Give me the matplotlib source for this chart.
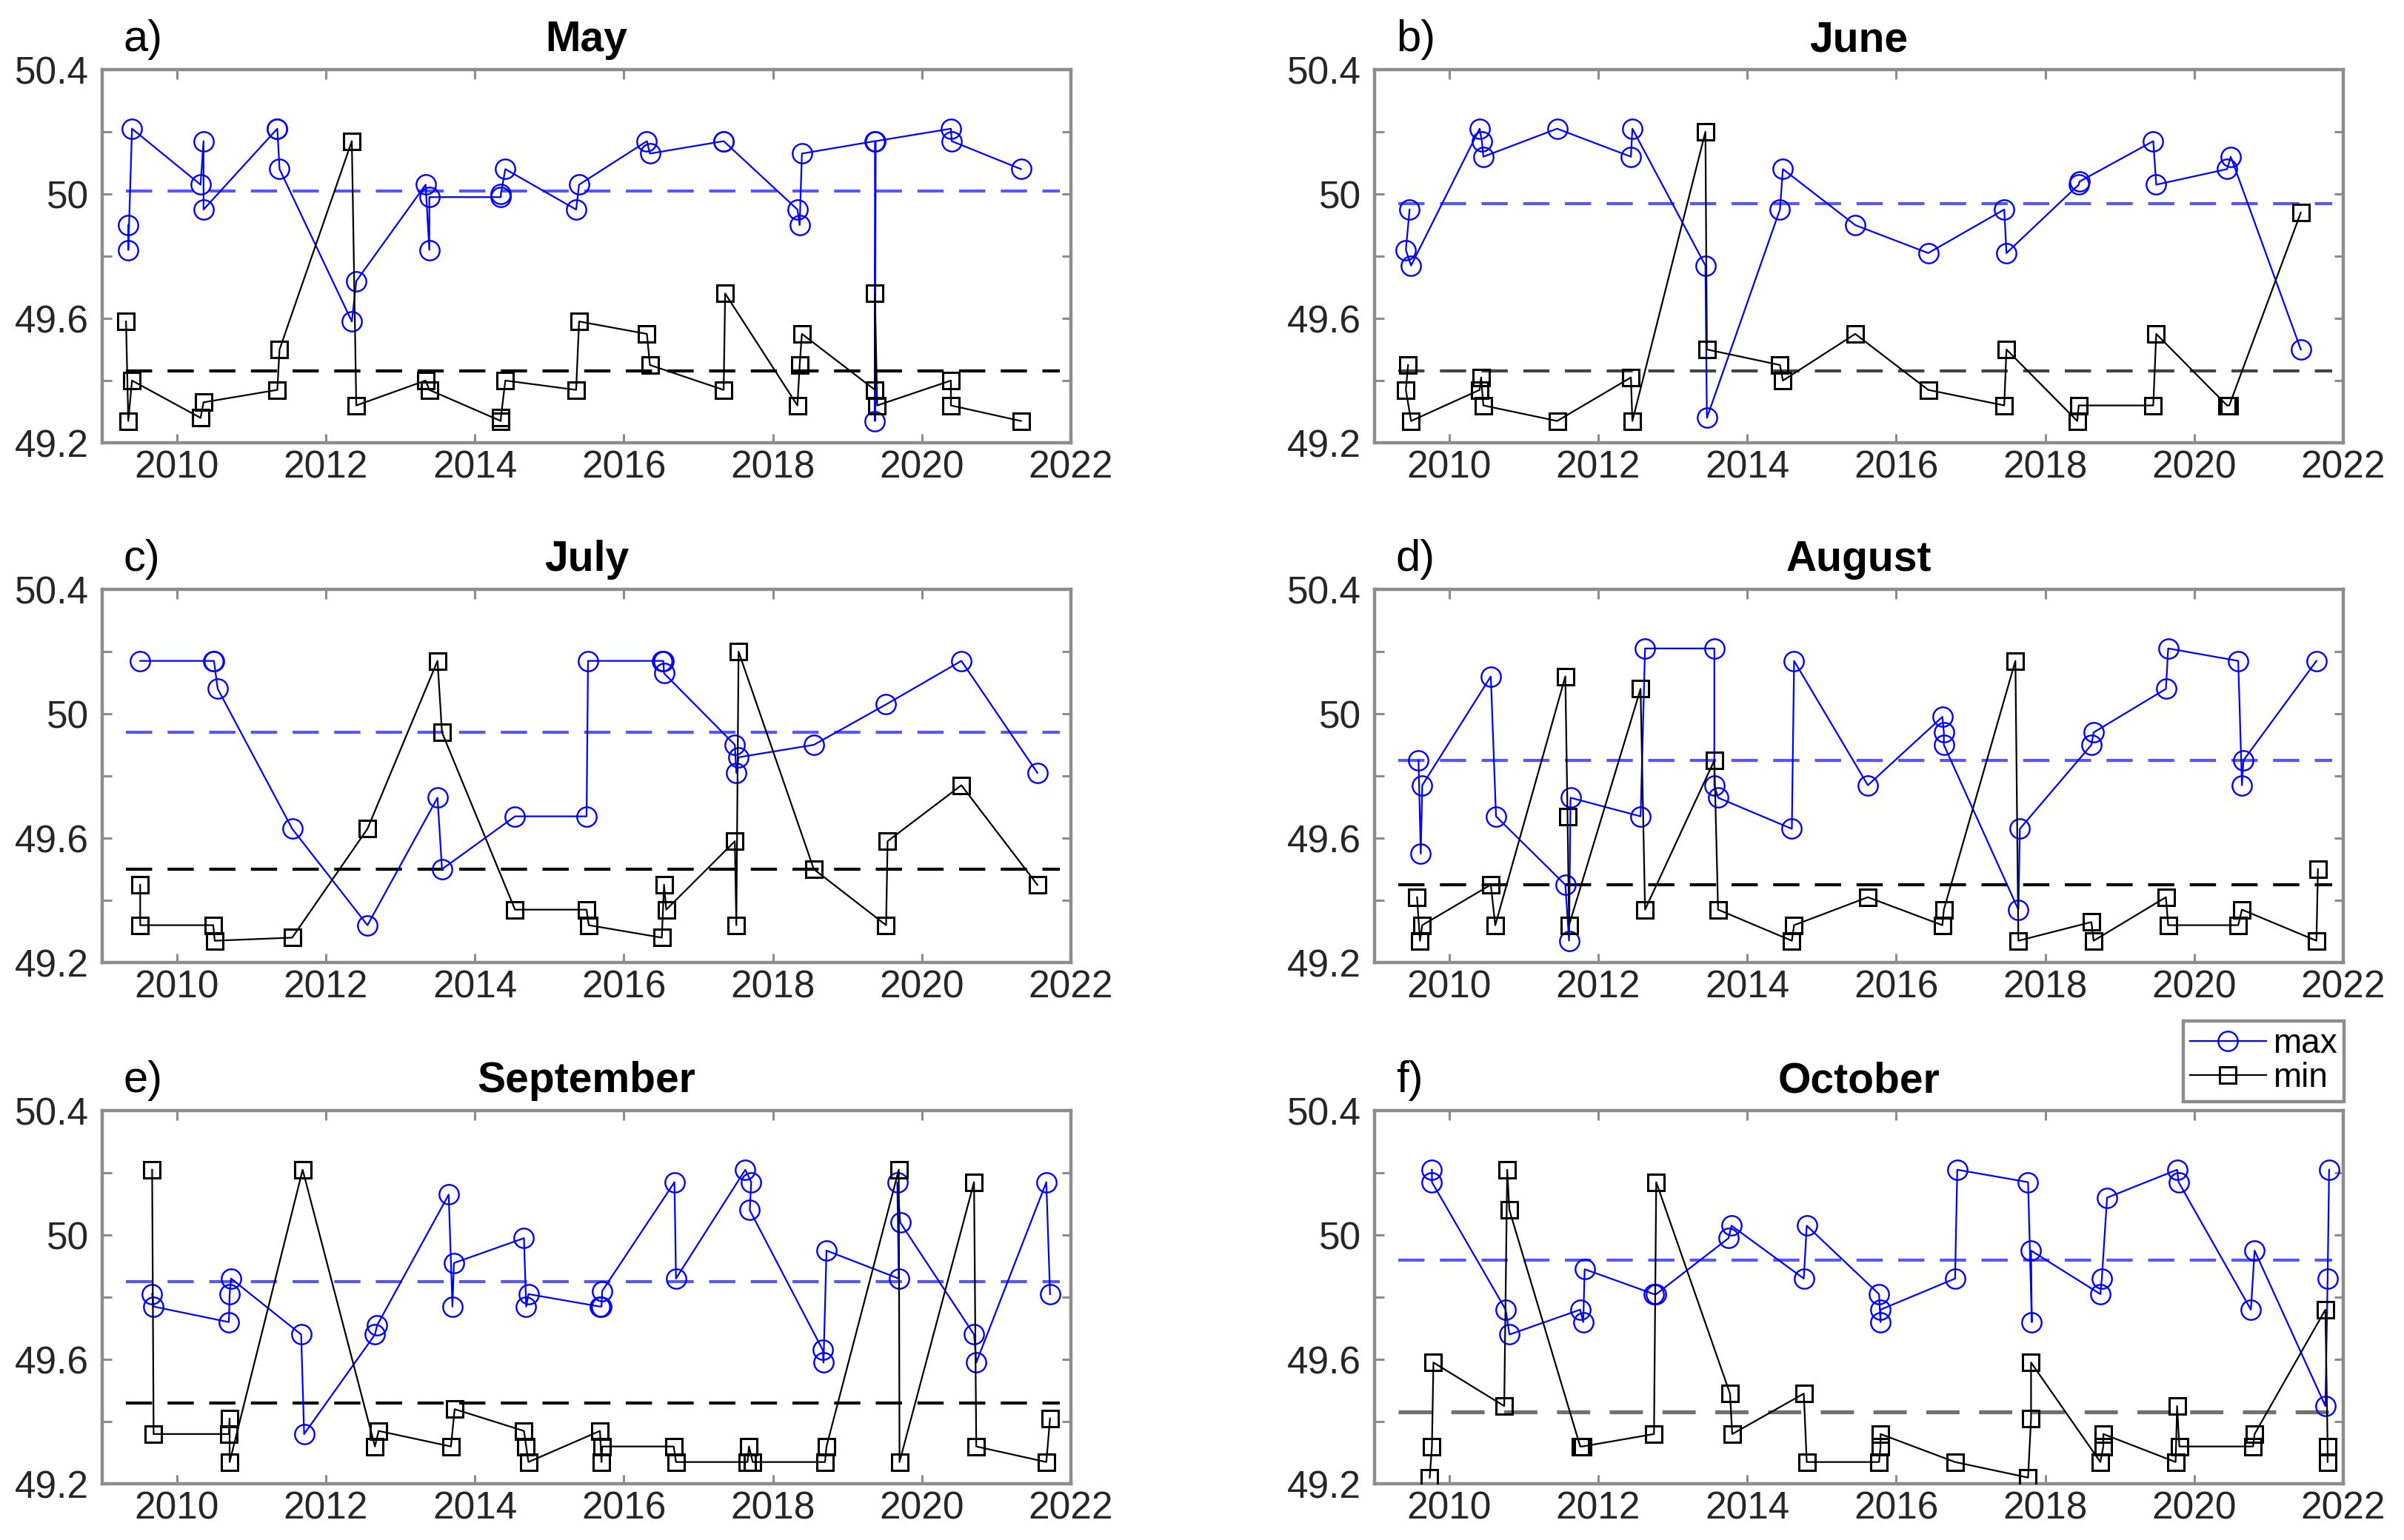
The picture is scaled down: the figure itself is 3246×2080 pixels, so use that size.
import matplotlib
matplotlib.use('Agg')
import matplotlib.pyplot as plt

plt.rcParams['font.family'] = ['Liberation Sans', 'DejaVu Sans']

# ---------------- data ----------------
months = ['May', 'June', 'July', 'August', 'September', 'October']
panel_labels = ['a)', 'b)', 'c)', 'd)', 'e)', 'f)']

may_max_x = [2009.35, 2009.35, 2009.40, 2010.32, 2010.36, 2010.36, 2011.35, 2011.35, 2011.38, 2012.35, 2012.41,
             2013.34, 2013.39, 2013.39, 2014.35, 2014.35, 2014.41, 2015.36, 2015.40, 2016.31, 2016.35, 2017.34,
             2017.34, 2018.33, 2018.36, 2018.39, 2019.37, 2019.37, 2019.38, 2020.39, 2020.40, 2021.33]
may_max_y = [49.90, 49.82, 50.21, 50.03, 50.17, 49.95, 50.21, 50.21, 50.08, 49.59, 49.72,
             50.03, 49.82, 49.99, 49.99, 50.00, 50.08, 49.95, 50.03, 50.17, 50.13, 50.17,
             50.17, 49.95, 49.90, 50.13, 50.17, 49.27, 50.17, 50.21, 50.17, 50.08]
may_min_x = [2009.32, 2009.35, 2009.40, 2010.32, 2010.36, 2011.35, 2011.35, 2011.38, 2012.35, 2012.41,
             2013.34, 2013.39, 2014.35, 2014.35, 2014.41, 2015.36, 2015.40, 2016.31, 2016.35, 2017.34,
             2017.36, 2018.33, 2018.36, 2018.39, 2019.37, 2019.37, 2019.40, 2020.39, 2020.39, 2021.33]
may_min_y = [49.59, 49.27, 49.40, 49.28, 49.33, 49.37, 49.37, 49.50, 50.17, 49.32,
             49.40, 49.37, 49.27, 49.28, 49.40, 49.37, 49.59, 49.55, 49.45, 49.37,
             49.68, 49.32, 49.45, 49.55, 49.37, 49.68, 49.32, 49.40, 49.32, 49.27]

jun_max_x = [2009.47, 2009.42, 2009.49, 2010.41, 2010.44, 2010.46, 2011.45, 2012.44, 2012.46, 2013.44, 2013.46,
             2014.44, 2014.48, 2015.45, 2016.43, 2017.45, 2017.48, 2018.45, 2018.46, 2019.45, 2019.49, 2020.44,
             2020.49, 2021.43]
jun_max_y = [49.95, 49.82, 49.77, 50.21, 50.17, 50.12, 50.21, 50.12, 50.21, 49.77, 49.28,
             49.95, 50.08, 49.90, 49.81, 49.95, 49.81, 50.03, 50.04, 50.17, 50.03, 50.08,
             50.12, 49.50]
jun_min_x = [2009.45, 2009.42, 2009.49, 2010.41, 2010.43, 2010.46, 2011.45, 2012.44, 2012.46, 2013.44, 2013.46,
             2014.44, 2014.48, 2015.45, 2016.43, 2017.45, 2017.48, 2018.43, 2018.45, 2019.45, 2019.49, 2020.44,
             2020.47, 2021.43]
jun_min_y = [49.45, 49.37, 49.27, 49.37, 49.41, 49.32, 49.27, 49.41, 49.27, 50.20, 49.50,
             49.45, 49.40, 49.55, 49.37, 49.32, 49.50, 49.27, 49.32, 49.32, 49.55, 49.32,
             49.32, 49.94]

jul_max_x = [2009.51, 2010.49, 2010.50, 2010.55, 2011.55, 2012.56, 2013.50, 2013.56, 2014.54, 2015.50, 2015.52,
             2016.51, 2016.53, 2016.54, 2017.49, 2017.51, 2017.54, 2018.55, 2019.52, 2020.53, 2021.55]
jul_max_y = [50.17, 50.17, 50.17, 50.08, 49.63, 49.32, 49.73, 49.50, 49.67, 49.67, 50.17,
             50.17, 50.17, 50.13, 49.90, 49.81, 49.86, 49.90, 50.03, 50.17, 49.81]
jul_min_x = [2009.51, 2009.51, 2010.49, 2010.51, 2011.55, 2012.56, 2013.50, 2013.56, 2014.54, 2015.50, 2015.53,
             2016.51, 2016.54, 2016.57, 2017.49, 2017.51, 2017.54, 2018.55, 2019.52, 2019.54, 2020.53, 2021.55]
jul_min_y = [49.45, 49.32, 49.32, 49.27, 49.28, 49.63, 50.17, 49.94, 49.37, 49.37, 49.32,
             49.28, 49.45, 49.37, 49.59, 49.32, 50.20, 49.50, 49.32, 49.59, 49.77, 49.45]

aug_max_x = [2009.59, 2009.62, 2009.64, 2010.56, 2010.63, 2011.56, 2011.61, 2011.63, 2012.57, 2012.63, 2013.56,
             2013.56, 2013.61, 2014.60, 2014.63, 2015.62, 2016.62, 2016.64, 2016.64, 2017.64, 2017.66, 2018.62,
             2018.65, 2019.62, 2019.65, 2020.59, 2020.64, 2020.66, 2021.64]
aug_max_y = [49.85, 49.55, 49.77, 50.12, 49.67, 49.45, 49.27, 49.73, 49.67, 50.21, 50.21,
             49.77, 49.73, 49.63, 50.17, 49.77, 49.99, 49.94, 49.90, 49.37, 49.63, 49.90,
             49.94, 50.08, 50.21, 50.17, 49.77, 49.85, 50.17]
aug_min_x = [2009.57, 2009.61, 2009.64, 2010.56, 2010.62, 2011.56, 2011.59, 2011.61, 2012.57, 2012.63, 2013.56,
             2013.61, 2014.60, 2014.63, 2015.62, 2016.62, 2016.64, 2017.60, 2017.64, 2018.62, 2018.65, 2019.62,
             2019.65, 2020.59, 2020.64, 2021.64, 2021.66]
aug_min_y = [49.41, 49.27, 49.32, 49.45, 49.32, 50.12, 49.67, 49.32, 50.08, 49.37, 49.85,
             49.37, 49.27, 49.32, 49.41, 49.32, 49.37, 50.17, 49.27, 49.33, 49.27, 49.41,
             49.32, 49.32, 49.37, 49.27, 49.50]

sep_max_x = [2009.67, 2009.69, 2010.70, 2010.71, 2010.73, 2011.67, 2011.71, 2012.66, 2012.69, 2013.65, 2013.70,
             2013.72, 2014.66, 2014.69, 2014.72, 2015.68, 2015.70, 2015.71, 2016.68, 2016.70, 2017.63, 2017.71,
             2017.69, 2018.67, 2018.68, 2018.72, 2019.69, 2019.67, 2019.71, 2020.70, 2020.73, 2021.67, 2021.72]
sep_max_y = [49.81, 49.77, 49.72, 49.81, 49.86, 49.68, 49.36, 49.68, 49.71, 50.13, 49.77,
             49.91, 49.99, 49.77, 49.81, 49.77, 49.77, 49.82, 50.17, 49.86, 50.21, 50.17,
             50.08, 49.63, 49.59, 49.95, 49.86, 50.17, 50.04, 49.68, 49.59, 50.17, 49.81]
sep_min_x = [2009.67, 2009.69, 2010.70, 2010.71, 2010.71, 2011.69, 2011.69, 2012.66, 2012.71, 2013.68, 2013.73,
             2014.66, 2014.69, 2014.72, 2015.68, 2015.70, 2015.71, 2016.67, 2016.70, 2017.66, 2017.68, 2017.73,
             2018.70, 2018.72, 2019.69, 2019.70, 2020.70, 2020.73, 2021.67, 2021.72]
sep_min_y = [50.21, 49.36, 49.36, 49.41, 49.27, 50.21, 50.21, 49.32, 49.37, 49.32, 49.44,
             49.37, 49.32, 49.27, 49.37, 49.27, 49.32, 49.32, 49.27, 49.27, 49.32, 49.27,
             49.27, 49.32, 50.21, 49.27, 50.17, 49.32, 49.27, 49.41]

oct_max_x = [2009.77, 2009.77, 2010.76, 2010.81, 2011.76, 2011.80, 2011.82, 2012.75, 2012.78, 2013.75, 2013.79,
             2014.76, 2014.80, 2015.77, 2015.79, 2015.79, 2016.79, 2016.82, 2017.77, 2017.82, 2017.81, 2018.74,
             2018.76, 2018.83, 2019.77, 2019.79, 2020.76, 2020.81, 2021.76, 2021.79, 2021.81]
oct_max_y = [50.21, 50.17, 49.76, 49.68, 49.76, 49.72, 49.89, 49.81, 49.81, 49.99, 50.03,
             49.86, 50.03, 49.81, 49.72, 49.76, 49.86, 50.21, 50.17, 49.72, 49.95, 49.81,
             49.86, 50.12, 50.21, 50.17, 49.76, 49.95, 49.45, 49.86, 50.21]
oct_min_x = [2009.74, 2009.77, 2009.79, 2010.74, 2010.78, 2010.81, 2011.76, 2011.79, 2012.75, 2012.78, 2013.77,
             2013.80, 2014.76, 2014.80, 2015.77, 2015.79, 2015.79, 2016.79, 2017.77, 2017.81, 2017.81, 2018.74,
             2018.78, 2018.78, 2019.75, 2019.77, 2019.80, 2020.79, 2020.81, 2021.76, 2021.79, 2021.79]
oct_min_y = [49.22, 49.32, 49.59, 49.45, 50.21, 50.08, 49.32, 49.32, 49.36, 50.17, 49.49,
             49.36, 49.49, 49.27, 49.27, 49.32, 49.36, 49.27, 49.22, 49.41, 49.59, 49.27,
             49.32, 49.36, 49.27, 49.45, 49.32, 49.32, 49.36, 49.76, 49.32, 49.27]

mean_max = [50.01, 49.97, 49.94, 49.85, 49.85, 49.92]
mean_min = [49.43, 49.43, 49.50, 49.45, 49.46, 49.43]
mean_span = [2009.32, 2021.85]

x_ticks = [2010, 2012, 2014, 2016, 2018, 2020, 2022]
y_ticks = [49.2, 49.4, 49.6, 49.8, 50.0, 50.2, 50.4]
y_tick_labels = ['49.2', '', '49.6', '', '50', '', '50.4']

series = [
    (may_max_x, may_max_y, may_min_x, may_min_y),
    (jun_max_x, jun_max_y, jun_min_x, jun_min_y),
    (jul_max_x, jul_max_y, jul_min_x, jul_min_y),
    (aug_max_x, aug_max_y, aug_min_x, aug_min_y),
    (sep_max_x, sep_max_y, sep_min_x, sep_min_y),
    (oct_max_x, oct_max_y, oct_min_x, oct_min_y),
]
min_mean_colors = ['#000000', '#444444', '#000000', '#000000', '#000000', '#707070']

# ---------------- layout ----------------
fig = plt.figure(figsize=(32.46, 20.80), dpi=100)
lefts = [0.04251, 0.57178]
bottoms = [0.7125, 0.375, 0.0365]
W, H = 0.40296, 0.2423
frame_gray = '#8c8c8c'

handles = None
for i, (mx, my, nx, ny) in enumerate(series):
    r, c = divmod(i, 2)
    ax = fig.add_axes([lefts[c], bottoms[r], W, H])
    ax.plot(mean_span, [mean_max[i]] * 2, linestyle=(0, (8.5, 5)), color='#3a3aff',
            lw=3.0, alpha=0.85, zorder=1)
    ax.plot(mean_span, [mean_min[i]] * 2, linestyle=(0, (8.5, 5)), color=min_mean_colors[i],
            lw=3.0 if i != 5 else 3.8, zorder=1)
    h1, = ax.plot(mx, my, '-o', color='#0000ff', lw=1.6, ms=19, mfc='none', mew=1.7, zorder=3)
    h2, = ax.plot(nx, ny, '-s', color='black', lw=1.6, ms=15.5, mfc='none', mew=2.2, zorder=3)
    if handles is None:
        handles = [h1, h2]

    ax.set_xlim(2009, 2022)
    ax.set_ylim(49.2, 50.4)
    ax.set_xticks(x_ticks)
    ax.set_xticklabels([str(t) for t in x_ticks])
    ax.set_yticks(y_ticks)
    ax.set_yticklabels(y_tick_labels)
    ax.tick_params(axis='both', direction='in', length=9, width=2.2, color=frame_gray,
                   labelcolor='#262626', labelsize=37, top=True, right=True)
    ax.tick_params(axis='x', pad=7)
    ax.tick_params(axis='y', pad=13)
    for sp in ax.spines.values():
        sp.set_color(frame_gray)
        sp.set_linewidth(3.2)

    ax.set_title(months[i], fontsize=41, fontweight='bold', pad=18)
    ax.annotate(panel_labels[i], xy=(0.022, 1.0), xycoords='axes fraction',
                xytext=(0, 18), textcoords='offset points', fontsize=43,
                ha='left', va='baseline')

leg = fig.legend(handles, ['max', 'min'], loc='upper right', bbox_to_anchor=(0.97505, 0.33702),
                 fontsize=33, frameon=True, fancybox=False, edgecolor=frame_gray, framealpha=1,
                 handlelength=2.25, handletextpad=0.2, borderpad=0.2, labelspacing=0.05,
                 borderaxespad=0, numpoints=1)
leg.get_frame().set_linewidth(3.2)

fig.savefig('out.png', dpi=100)
